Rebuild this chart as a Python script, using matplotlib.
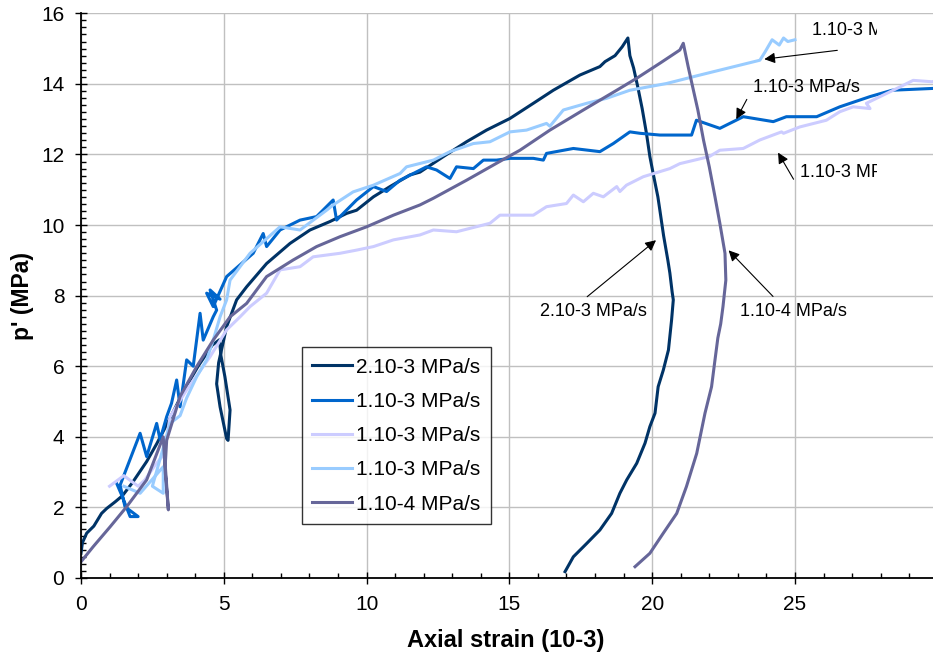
import matplotlib
matplotlib.use('Agg')
import matplotlib.pyplot as plt
from matplotlib.ticker import MultipleLocator
from matplotlib.transforms import Bbox, TransformedBbox

plt.rcParams['font.family'] = ['Liberation Sans', 'DejaVu Sans']

# 2.10-3 MPa/s (dunkelblau)
x_a = [0, 0.05, 0.2, 0.45, 0.72, 0.9, 1.2, 1.45, 1.8, 2.3, 2.65, 3.1, 3.6, 4.1, 4.6, 4.85,
       4.9, 5.04, 5.22, 5.15, 5.1, 4.87, 4.75, 4.82, 4.93, 5.1, 5.45, 5.8, 6.5, 7.32, 8.02,
       8.72, 9.3, 9.65, 10.24, 10.82, 11.52, 11.87, 12.69, 13.5, 14.2, 15.02, 15.84, 16.54,
       17.47, 18.17, 18.35, 18.7, 18.95, 19.15, 19.22, 19.35, 19.5, 19.65, 19.8, 19.92,
       20.05, 20.2, 20.27, 20.4, 20.55, 20.62, 20.7, 20.74, 20.68, 20.57, 20.39, 20.21,
       20.1, 19.92, 19.75, 19.46, 19.11, 18.87, 18.58, 18.17, 17.71, 17.24, 16.95]
y_a = [0.7, 1.0, 1.27, 1.47, 1.83, 1.97, 2.16, 2.33, 2.7, 3.3, 3.8, 4.5, 5.3, 6.0, 6.6, 6.75,
       6.3, 5.7, 4.76, 3.9, 3.95, 4.85, 5.5, 6.1, 6.5, 7.12, 7.88, 8.25, 8.91, 9.48, 9.86,
       10.1, 10.33, 10.42, 10.8, 11.09, 11.42, 11.5, 11.94, 12.36, 12.69, 13.02, 13.45, 13.82,
       14.25, 14.49, 14.63, 14.8, 15.05, 15.3, 14.8, 14.45, 13.9, 13.3, 12.6, 11.94,
       11.4, 10.8, 10.42, 9.7, 9.0, 8.64, 8.1, 7.88, 7.31, 6.46, 5.89, 5.42,
       4.67, 4.29, 3.82, 3.25, 2.78, 2.4, 1.83, 1.36, 0.98, 0.6, 0.18]

# 1.10-3 MPa/s (mittelblau)
x_b = [1.25, 1.45, 1.72, 2.0, 1.54, 1.37, 2.07, 2.3, 2.65, 2.77, 3.0, 3.17, 3.35, 3.47,
       3.7, 3.93, 4.17, 4.28, 4.63, 4.75, 4.52, 4.87, 4.4, 4.63, 5.1, 6.03, 6.38, 6.5,
       6.97, 7.67, 8.25, 8.83, 8.95, 9.65, 10.24, 10.7, 11.17, 12.1, 12.45, 12.92, 13.15,
       13.74, 14.09, 14.55, 15.02, 15.84, 16.19, 16.3, 17.24, 18.17, 18.64, 19.22, 19.57,
       20.27, 21.38, 21.55, 22.37, 23.19, 24.24, 24.7, 25.76, 26.57, 27.63, 28.4, 29.8, 30]
y_b = [2.68, 2.3, 1.74, 1.74, 2.02, 2.63, 4.1, 3.44, 4.38, 3.92, 4.57, 4.95, 5.61, 4.85,
       6.18, 6.0, 7.5, 6.74, 7.4, 7.59, 8.16, 7.9, 8.07, 7.69, 8.54, 9.2, 9.76, 9.39,
       9.86, 10.14, 10.24, 10.71, 10.14, 10.71, 11.09, 10.95, 11.27, 11.65, 11.56, 11.32, 11.65,
       11.6, 11.84, 11.84, 11.89, 11.89, 11.84, 12.03, 12.17, 12.08, 12.31, 12.64, 12.6,
       12.55, 12.55, 12.97, 12.74, 13.07, 12.93, 13.07, 13.07, 13.35, 13.64, 13.82, 13.87, 13.88]

# 1.10-3 MPa/s (lavendel)
x_c = [1.0, 1.5, 2.0, 2.24, 2.6, 2.9, 3.12, 3.7, 4.52, 5.1, 5.57, 5.92, 6.5, 6.97, 7.67,
       8.13, 8.6, 9.07, 9.65, 10.24, 10.94, 11.87, 12.34, 13.15, 14.32, 14.67, 15.84, 16.3,
       17.0, 17.24, 17.59, 17.94, 18.29, 18.76, 18.87, 19.1, 19.69, 20.62, 20.97, 22.0,
       22.37, 23.19, 23.77, 24.53, 24.6, 25.17, 26.1, 26.57, 27.04, 27.63, 27.5, 28.44,
       29.14, 29.8, 30]
y_c = [2.6, 2.9, 2.6, 2.78, 3.2, 3.5, 4.57, 5.33, 6.27, 7.03, 7.4, 7.69, 8.07, 8.73, 8.82,
       9.1, 9.15, 9.2, 9.29, 9.39, 9.58, 9.72, 9.86, 9.81, 10.05, 10.28, 10.28, 10.52,
       10.61, 10.85, 10.66, 10.9, 10.8, 11.09, 10.95, 11.13, 11.37, 11.6, 11.74, 11.94,
       12.12, 12.17, 12.41, 12.64, 12.6, 12.78, 12.97, 13.21, 13.35, 13.3, 13.45, 13.82,
       14.1, 14.06, 14.1]

# 1.10-3 MPa/s (hellblau)
x_d = [1.5, 2.07, 2.88, 2.88, 2.5, 3.12, 3.47, 3.7, 4.05, 4.4, 4.63, 4.87, 5.1, 5.22,
       5.92, 6.97, 7.67, 8.6, 8.83, 9.53, 10.24, 11.17, 11.4, 12.34, 12.92, 13.74, 14.32,
       15.02, 15.6, 16.3, 16.42, 16.89, 17.71, 18.4, 19.22, 20.5, 21.67, 23.77, 23.95,
       24.2, 24.45, 24.6, 24.75, 25.0]
y_d = [2.6, 2.4, 3.15, 2.4, 2.6, 4.38, 4.6, 5.1, 5.7, 6.18, 6.74, 7.4, 7.88, 8.44,
       9.2, 9.95, 9.86, 10.42, 10.57, 10.94, 11.13, 11.46, 11.65, 11.84, 12.08, 12.31, 12.36,
       12.64, 12.69, 12.88, 12.8, 13.26, 13.45, 13.59, 13.82, 14.01, 14.25, 14.67, 14.9,
       15.25, 15.1, 15.3, 15.2, 15.25]

# 1.10-4 MPa/s (violett)
x_e = [0, 0.43, 1.02, 1.6, 1.95, 2.3, 2.88, 2.95, 3.06, 2.95, 3.0, 3.47, 4.05, 4.63, 5.22,
       5.8, 6.5, 7.43, 8.25, 9.07, 10.0, 10.94, 11.87, 12.34, 13.5, 14.55, 15.37, 16.42,
       17.59, 18.76, 19.46, 20.3, 20.97, 21.09, 21.26, 21.45, 21.6, 21.8, 22.0, 22.2,
       22.37, 22.55, 22.58, 22.48, 22.4, 22.3, 22.2, 22.08, 21.85, 21.56, 21.2, 20.86,
       20.39, 19.92, 19.4]
y_e = [0.46, 0.89, 1.45, 2.02, 2.4, 2.78, 4.0, 3.0, 1.93, 3.2, 3.9, 5.14, 5.99, 6.74, 7.4,
       7.78, 8.54, 9.01, 9.39, 9.67, 9.95, 10.28, 10.57, 10.76, 11.27, 11.75, 12.12, 12.69,
       13.26, 13.82, 14.16, 14.6, 14.96, 15.15, 14.49, 13.8, 13.26, 12.4, 11.65, 10.8,
       10.05, 9.2, 8.44, 7.69, 7.2, 6.8, 6.18, 5.42, 4.67, 3.53, 2.59, 1.83,
       1.27, 0.7, 0.32]

series = [
    (x_a, y_a, '#003366', '2.10-3 MPa/s'),
    (x_b, y_b, '#0066CC', '1.10-3 MPa/s'),
    (x_c, y_c, '#CCCCFF', '1.10-3 MPa/s'),
    (x_d, y_d, '#99CCFF', '1.10-3 MPa/s'),
    (x_e, y_e, '#666699', '1.10-4 MPa/s'),
]

# Beschriftungen mit Pfeilen: Text, Textpos, Pfeilanfang, Pfeilspitze
notes = [
    ('1.10-3 MPa/s', (25.6, 15.5), (26.58, 14.96), (23.83, 14.69)),
    ('1.10-3 MPa/s', (23.53, 13.91), (23.36, 13.63), (22.9, 12.93)),
    ('1.10-3 MPa/s', (25.17, 11.5), (25.0, 11.23), (24.36, 12.12)),
    ('2.10-3 MPa/s', (16.07, 7.54), (17.65, 7.92), (20.21, 9.62)),
    ('1.10-4 MPa/s', (23.07, 7.54), (24.3, 7.92), (22.61, 9.34)),
]

fig = plt.figure(figsize=(9.33, 6.58), dpi=100)
ax = fig.add_axes([0.0868, 0.1216, 0.9137, 0.8582])

for x, y, c, lab in series:
    ax.plot(x, y, color=c, lw=2.2, label=lab, solid_joinstyle='round')

ax.set_xlim(0, 29.85)
ax.set_ylim(0, 16)
ax.xaxis.set_major_locator(MultipleLocator(5))
ax.xaxis.set_minor_locator(MultipleLocator(1))
ax.yaxis.set_major_locator(MultipleLocator(2))
ax.yaxis.set_minor_locator(MultipleLocator(0.2))
ax.grid(True, which='major', color='#C0C0C0', lw=1)
ax.set_axisbelow(True)
ax.tick_params(which='major', direction='inout', length=8, width=1, labelsize=15, pad=8)
ax.tick_params(which='minor', direction='in', length=3.5, width=1)
for s in ['top', 'right']:
    ax.spines[s].set_visible(False)
for s in ['left', 'bottom']:
    ax.spines[s].set_linewidth(1.3)

ax.set_xlabel('Axial strain (10-3)', fontsize=17, fontweight='bold')
ax.set_ylabel("p' (MPa)", fontsize=16.5, fontweight='bold')
ax.xaxis.set_label_coords(0.4977, -0.09)
ax.yaxis.set_label_coords(-0.055, 0.5)

leg = ax.legend(loc='lower left', bbox_to_anchor=(0.259, 0.0956), borderaxespad=0,
                fontsize=15, frameon=True, fancybox=False, edgecolor='black',
                handlelength=1.9, handletextpad=0.2, labelspacing=0.73, borderpad=0.5)
leg.get_frame().set_linewidth(1)

clip = TransformedBbox(Bbox([[0, 0], [877 / 933, 1]]), fig.transFigure)
for txt, pos, tail, head in notes:
    t = ax.text(pos[0], pos[1], txt, fontsize=13, ha='left', va='center')
    t.set_clip_box(clip)
    t.set_clip_on(True)
    ax.annotate('', xy=head, xytext=tail,
                arrowprops=dict(arrowstyle='-|>', color='black', lw=0.8, mutation_scale=16))

fig.savefig('out.png', dpi=100)
